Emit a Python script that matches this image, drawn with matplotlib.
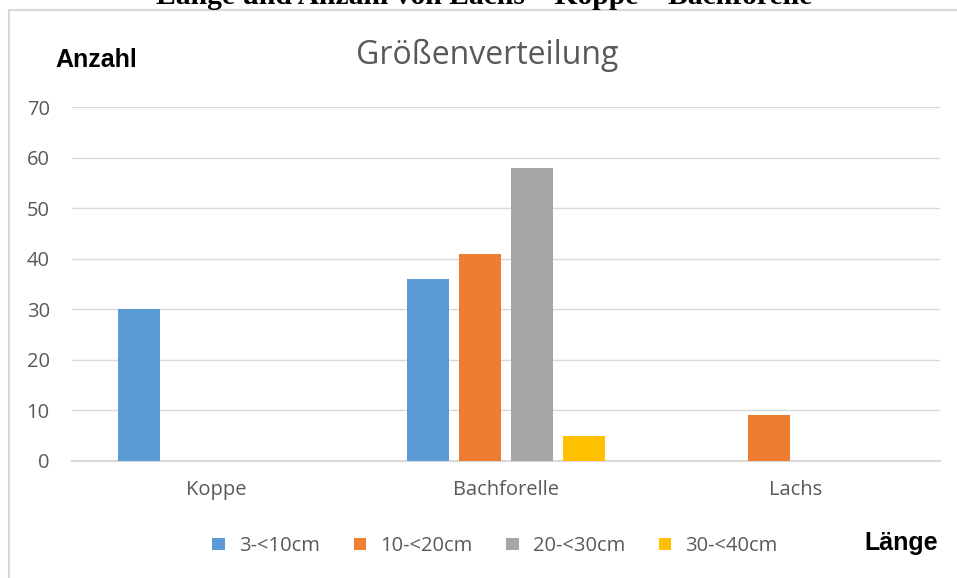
import numpy as np
import matplotlib.pyplot as plt
from matplotlib.patches import Rectangle

# Daten
kategorien = ['Koppe', 'Bachforelle', 'Lachs']
klassen = ['3-<10cm', '10-<20cm', '20-<30cm', '30-<40cm']
werte = {
    '3-<10cm': [30, 36, 0],
    '10-<20cm': [0, 41, 9],
    '20-<30cm': [0, 58, 0],
    '30-<40cm': [0, 5, 0],
}
farben = ['#5B9BD5', '#ED7D31', '#A5A5A5', '#FFC000']
yticks = np.arange(0, 80, 10)

W, H = 957, 578
fig = plt.figure(figsize=(W / 100, H / 100), dpi=100)

# Rahmen des Diagramms
fig.patches.append(Rectangle((9 / W, -0.05), 1.2, (H - 10) / H + 0.05, transform=fig.transFigure,
                             fill=False, edgecolor='#D9D9D9', lw=1.5))

# Überschrift (oben abgeschnitten, wie im Original)
fig.text(484 / W, 1 - 4 / H, 'Länge und Anzahl von Lachs – Koppe – Bachforelle',
         ha='center', va='baseline', family='Liberation Serif', weight='bold', fontsize=21.3)

ax = fig.add_axes([72 / W, 1 - 461 / H, (940 - 72) / W, (461 - 107) / H])

x = np.arange(len(kategorien))
step = 0.18
bw = 0.145
for i, k in enumerate(klassen):
    vals = np.array(werte[k], dtype=float)
    pos = x + (i - 1.5) * step
    mask = vals > 0
    ax.bar(pos[mask], vals[mask], width=bw, color=farben[i], zorder=3)
    ax.bar([np.nan], [0], color=farben[i], label=k)

ax.set_xlim(-0.5, 2.5)
ax.set_ylim(0, 70)
ax.set_yticks(yticks)
ax.set_xticks(x)
ax.set_xticklabels(kategorien)
ax.grid(axis='y', color='#D9D9D9', lw=1, zorder=0)
for s in ['top', 'right', 'left']:
    ax.spines[s].set_visible(False)
ax.spines['bottom'].set_color('#D9D9D9')
ax.spines['bottom'].set_linewidth(1.5)
ax.tick_params(length=0, labelcolor='#595959', labelsize=14.5)
ax.tick_params(axis='y', pad=16)
ax.tick_params(axis='x', pad=14)
for lab in ax.get_xticklabels() + ax.get_yticklabels():
    lab.set_family('Open Sans')

fig.text(487 / W, 1 - 55 / H, 'Größenverteilung', ha='center', va='center',
         family='Open Sans', fontsize=23, color='#595959')
fig.text(55 / W, 1 - 60 / H, 'Anzahl', ha='left', va='center',
         family='Liberation Sans', weight='bold', fontsize=18)
fig.text(938 / W, 1 - 543 / H, 'Länge', ha='right', va='center',
         family='Liberation Sans', weight='bold', fontsize=18)

leg = fig.legend(loc='center', bbox_to_anchor=(495 / W, 1 - 546 / H), ncol=4, frameon=False,
                 handlelength=0.6, handleheight=0.6, columnspacing=1.7, handletextpad=0.7,
                 prop={'family': 'Open Sans', 'size': 14.5})
for t in leg.get_texts():
    t.set_color('#595959')

fig.savefig('out.png', dpi=100)
